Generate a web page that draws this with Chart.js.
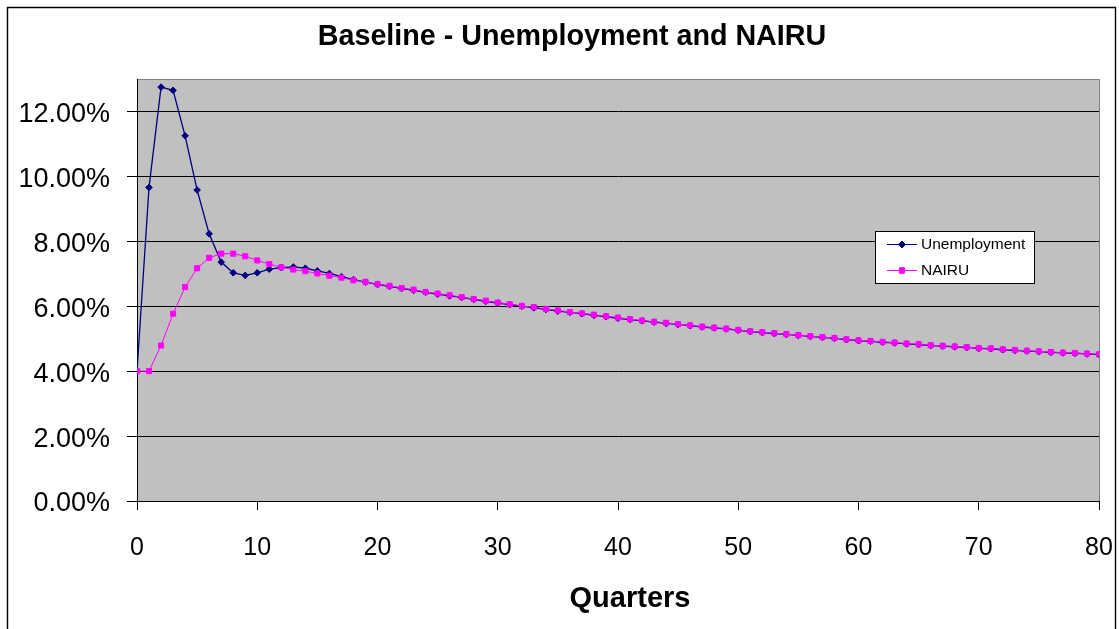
<!DOCTYPE html>
<html>
<head>
<meta charset="utf-8">
<script src="https://cdn.jsdelivr.net/npm/chart.js@4"></script>
<style>
html,body{margin:0;padding:0;background:#fff;}
#wrap{width:1119px;height:629px;position:relative;}
</style>
</head>
<body>
<div id="wrap"><canvas id="c" width="1119" height="629"></canvas></div>
<script>
// ---- data (percent values) ----
const quarters = [];
for (let q = 0; q <= 80; q++) quarters.push(q);

const unemployment = [
  4.00, 9.66, 12.75, 12.65, 11.25, 9.58, 8.23, 7.36, 7.03, 6.95,
  7.03, 7.14, 7.19, 7.21, 7.17, 7.09, 7.01, 6.91, 6.82, 6.74,
  6.67, 6.61, 6.55, 6.49, 6.43, 6.37, 6.32, 6.27, 6.21, 6.15,
  6.10, 6.05, 6.00, 5.95, 5.90, 5.85, 5.81, 5.77, 5.72, 5.68,
  5.63, 5.59, 5.55, 5.51, 5.47, 5.44, 5.40, 5.36, 5.33, 5.30,
  5.26, 5.22, 5.19, 5.16, 5.13, 5.10, 5.07, 5.04, 5.01, 4.97,
  4.94, 4.92, 4.89, 4.87, 4.84, 4.82, 4.79, 4.77, 4.75, 4.73,
  4.70, 4.69, 4.66, 4.64, 4.62, 4.60, 4.58, 4.56, 4.55, 4.53,
  4.51
];

const nairu = [
  4.00, 4.00, 4.79, 5.77, 6.59, 7.17, 7.49, 7.62, 7.62, 7.54,
  7.41, 7.30, 7.20, 7.13, 7.08, 7.01, 6.94, 6.88, 6.80, 6.75,
  6.68, 6.63, 6.56, 6.51, 6.44, 6.39, 6.34, 6.28, 6.22, 6.17,
  6.11, 6.06, 6.01, 5.97, 5.92, 5.87, 5.82, 5.78, 5.74, 5.69,
  5.65, 5.60, 5.56, 5.52, 5.49, 5.45, 5.41, 5.37, 5.34, 5.31,
  5.27, 5.23, 5.20, 5.17, 5.14, 5.11, 5.08, 5.05, 5.02, 4.98,
  4.95, 4.93, 4.90, 4.88, 4.85, 4.83, 4.80, 4.78, 4.76, 4.74,
  4.71, 4.70, 4.67, 4.65, 4.63, 4.61, 4.59, 4.57, 4.56, 4.54,
  4.52
];

const yTickValues = [0, 0.02, 0.04, 0.06, 0.08, 0.10, 0.12];
const xTickValues = [0, 10, 20, 30, 40, 50, 60, 70, 80];
const chartTitle = 'Baseline - Unemployment and NAIRU';
const xAxisTitle = 'Quarters';

const FONT = "'Liberation Sans', Arial, Helvetica, sans-serif";
const NAVY = '#000080';
const MAGENTA = '#ff00ff';

const toPoints = arr => arr.map((v, i) => ({ x: quarters[i], y: v / 100 }));

const framePlugin = {
  id: 'frame',
  beforeDraw(chart) {
    const ctx = chart.ctx;
    const a = chart.chartArea;
    ctx.save();
    ctx.fillStyle = '#fff';
    ctx.fillRect(0, 0, chart.width, chart.height);
    // outer frame
    ctx.strokeStyle = '#000';
    ctx.lineWidth = 1.4;
    ctx.beginPath();
    ctx.moveTo(7.5, 640);
    ctx.lineTo(7.5, 7.5);
    ctx.lineTo(1115.5, 7.5);
    ctx.lineTo(1115.5, 640);
    ctx.stroke();
    // plot area
    ctx.fillStyle = '#c0c0c0';
    ctx.fillRect(a.left, a.top, a.right - a.left, a.bottom - a.top);
    ctx.strokeStyle = '#808080';
    ctx.lineWidth = 1;
    ctx.strokeRect(a.left + 0.5, a.top + 0.5, a.right - a.left, a.bottom - a.top);
    ctx.restore();
  },
  afterDraw(chart) {
    const ctx = chart.ctx;
    ctx.save();
    ctx.fillStyle = '#000';
    ctx.textAlign = 'center';
    ctx.textBaseline = 'middle';
    // chart title
    ctx.font = 'bold 28.7px ' + FONT;
    ctx.fillText(chartTitle, 572, 37);
    // x axis title
    ctx.font = 'bold 29px ' + FONT;
    ctx.fillText(xAxisTitle, 630, 599);
    // legend
    const bx = 875.5, by = 231.5, bw = 159, bh = 52;
    ctx.fillStyle = '#fff';
    ctx.fillRect(bx, by, bw, bh);
    ctx.strokeStyle = '#000';
    ctx.lineWidth = 1;
    ctx.strokeRect(bx, by, bw, bh);
    const rows = [244.5, 270.5];
    chart.data.datasets.forEach((ds, i) => {
      const y = rows[i];
      ctx.strokeStyle = ds.borderColor;
      ctx.lineWidth = 1;
      ctx.beginPath();
      ctx.moveTo(887, y);
      ctx.lineTo(917, y);
      ctx.stroke();
      Chart.helpers.drawPoint(ctx, {
        pointStyle: ds.pointStyle,
        radius: ds.pointRadius,
        borderWidth: 1,
        rotation: 0
      }, 902, y);
      ctx.fillStyle = ds.backgroundColor;
      ctx.strokeStyle = ds.borderColor;
      ctx.fill();
      ctx.stroke();
      ctx.fillStyle = '#000';
      ctx.font = '15.5px ' + FONT;
      ctx.textBaseline = 'middle';
      ctx.textAlign = 'left';
      ctx.fillText(ds.label, 921, y + 0.5);
    });
    ctx.restore();
  }
};

new Chart(document.getElementById('c'), {
  type: 'line',
  data: {
    datasets: [
      {
        label: 'Unemployment',
        data: toPoints(unemployment),
        borderColor: NAVY,
        backgroundColor: NAVY,
        borderWidth: 1.3,
        pointStyle: 'rectRot',
        pointRadius: 3.3,
        pointBorderWidth: 1,
        tension: 0,
        order: 1
      },
      {
        label: 'NAIRU',
        data: toPoints(nairu),
        borderColor: MAGENTA,
        backgroundColor: MAGENTA,
        borderWidth: 1,
        pointStyle: 'rect',
        pointRadius: 3.6,
        pointBorderWidth: 1,
        tension: 0,
        order: 0
      }
    ]
  },
  options: {
    responsive: false,
    animation: false,
    events: [],
    layout: { padding: { left: 0, right: 20, top: 79, bottom: 0 } },
    plugins: {
      legend: { display: false },
      tooltip: { enabled: false },
      title: { display: false }
    },
    scales: {
      x: {
        type: 'linear',
        min: 0,
        max: 80,
        afterFit(s) { s.height = 128; s.paddingLeft = 0; s.paddingRight = 0; },
        afterBuildTicks(s) { s.ticks = xTickValues.map(v => ({ value: v })); },
        ticks: {
          color: '#000',
          font: { family: FONT, size: 25 },
          padding: 23,
          maxRotation: 0,
          autoSkip: false
        },
        grid: { drawOnChartArea: false, drawTicks: true, tickLength: 9, color: '#000' },
        border: { color: '#000', width: 1 }
      },
      y: {
        type: 'linear',
        min: 0,
        max: 0.13,
        afterFit(s) { s.width = 137; s.paddingTop = 0; s.paddingBottom = 0; },
        afterBuildTicks(s) { s.ticks = yTickValues.map(v => ({ value: v })); },
        ticks: {
          color: '#000',
          font: { family: FONT, size: 27 },
          padding: 17,
          labelOffset: 3,
          callback: v => (v * 100).toFixed(2) + '%'
        },
        grid: { color: '#000', lineWidth: 1, tickLength: 10, drawTicks: true },
        border: { color: '#000', width: 1 }
      }
    }
  },
  plugins: [framePlugin]
});
</script>
</body>
</html>
